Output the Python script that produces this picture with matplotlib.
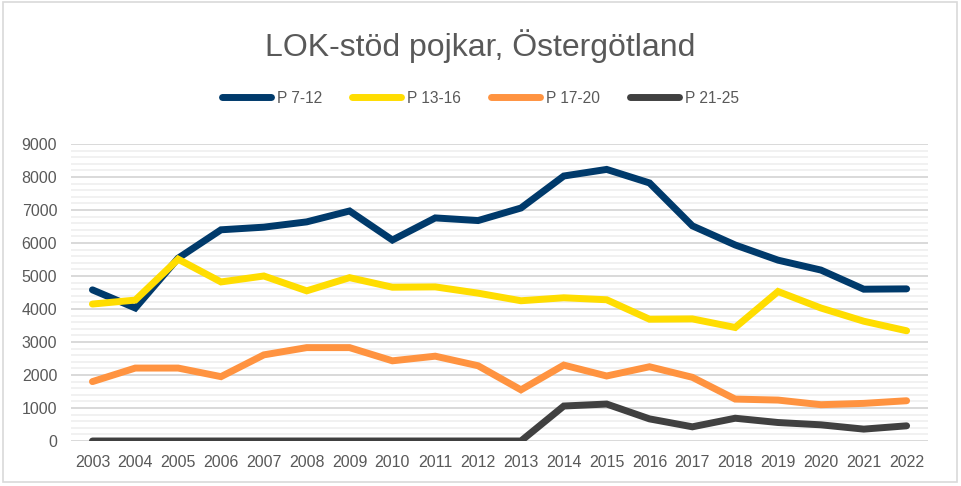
import matplotlib.pyplot as plt
from matplotlib.patches import Rectangle
from matplotlib.ticker import MultipleLocator

plt.rcParams['font.family'] = ['Liberation Sans', 'DejaVu Sans']

years = [str(y) for y in range(2003, 2023)]
p_7_12 = [4580, 4030, 5540, 6400, 6480, 6640, 6970, 6090, 6760, 6680, 7060,
          8030, 8230, 7820, 6520, 5940, 5480, 5180, 4600, 4610]
p_13_16 = [4150, 4270, 5510, 4820, 5000, 4550, 4950, 4660, 4670, 4480, 4250,
           4340, 4280, 3690, 3700, 3440, 4530, 4030, 3630, 3340]
p_17_20 = [1800, 2210, 2210, 1950, 2610, 2830, 2830, 2430, 2570, 2280, 1550,
           2300, 1970, 2250, 1930, 1270, 1240, 1100, 1140, 1220]
p_21_25 = [0, 0, 0, 0, 0, 0, 0, 0, 0, 0, 0,
           1060, 1120, 670, 430, 690, 560, 490, 360, 460]

series = [
    ('P 7-12', p_7_12, '#003A6B'),
    ('P 13-16', p_13_16, '#FFDD00'),
    ('P 17-20', p_17_20, '#FF9340'),
    ('P 21-25', p_21_25, '#404040'),
]

fig = plt.figure(figsize=(9.61, 4.86), dpi=100)
ax = fig.add_axes([0.0739, 0.0926, 0.8918, 0.6111])

x = range(len(years))
for label, vals, color in series:
    ax.plot(x, vals, color=color, lw=5, label=label,
            solid_capstyle='round', solid_joinstyle='miter', zorder=3)

ax.set_xlim(-0.5, len(years) - 0.5)
ax.set_ylim(0, 9000)
ax.set_xticks(list(x))
ax.set_xticklabels(years)
ax.yaxis.set_major_locator(MultipleLocator(1000))
ax.yaxis.set_minor_locator(MultipleLocator(200))
ax.grid(axis='y', which='major', color='#D9D9D9', lw=1.4, zorder=0)
ax.grid(axis='y', which='minor', color='#EFEFEF', lw=1.2, zorder=0)
ax.set_axisbelow(True)
for s in ax.spines.values():
    s.set_visible(False)
ax.tick_params(axis='both', which='both', length=0, labelsize=11.5,
               labelcolor='#595959')
ax.tick_params(axis='x', pad=10)
ax.tick_params(axis='y', pad=10)

fig.text(0.5, 0.905, 'LOK-stöd pojkar, Östergötland', ha='center', va='center',
         fontsize=23, color='#595959')

leg = fig.legend(loc='center', bbox_to_anchor=(0.5, 0.798), ncol=4,
                 frameon=False, fontsize=11.2, handlelength=3.15,
                 handletextpad=0.4, columnspacing=1.9)
for t in leg.get_texts():
    t.set_color('#595959')

fig.patches.append(Rectangle((0.003, 0.008), 0.993, 0.988,
                             transform=fig.transFigure, fill=False,
                             edgecolor='#D9D9D9', lw=1.2))

fig.savefig('out.png', dpi=100)
